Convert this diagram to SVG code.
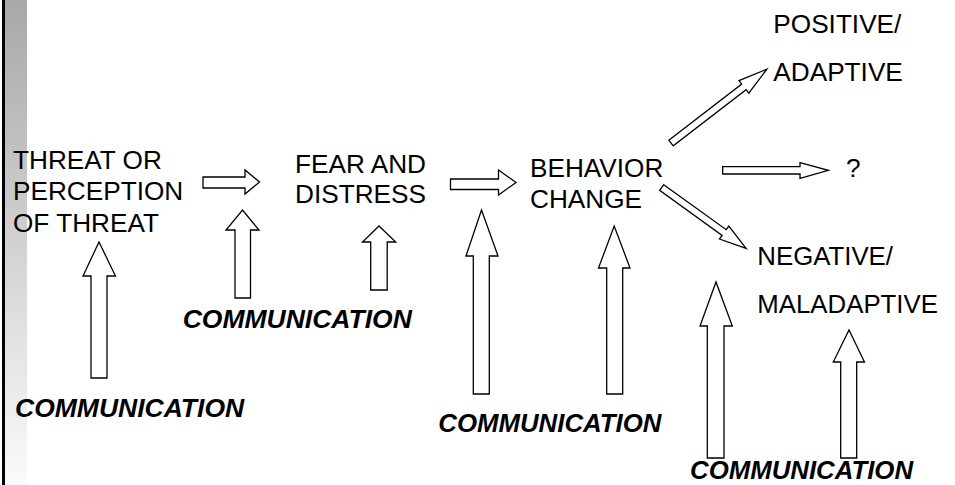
<svg xmlns="http://www.w3.org/2000/svg" width="955" height="485" viewBox="0 0 955 485">
<defs>
<linearGradient id="bar" x1="0" y1="0" x2="0" y2="1">
<stop offset="0" stop-color="#a8a8a8"/>
<stop offset="1" stop-color="#fbfbfb"/>
</linearGradient>
<style>
.lbl{font-family:"Liberation Sans",Arial,sans-serif;font-size:26.2px;fill:#000}
.com{font-family:"Liberation Sans",Arial,sans-serif;font-size:26.5px;font-weight:bold;font-style:italic;fill:#000}
.sm{font-size:25.8px}
.arr{fill:#fff;stroke:#000;stroke-width:1.3;stroke-linejoin:miter}
</style>
</defs>
<rect width="955" height="485" fill="#fff"/>
<rect x="5" y="0" width="22" height="485" fill="url(#bar)"/>
<rect x="2" y="0" width="3" height="485" fill="#000"/>

<g id="connectors">
<path class="arr" d="M203,177 H245 V170 L259.5,182 L245,194 V188 H203 Z"/>
<path class="arr" d="M235,298 V230 H226 L242.5,210 L259,230 H250.5 V298 Z"/>
<path class="arr" d="M91,378 V276 H83 L99,242 L115.5,276 H107 V378 Z"/>
<path class="arr" d="M370.7,290 V242 H362.5 L379,226 L395.7,242 H387.2 V290 Z"/>
<path class="arr" d="M450.5,179 H498.5 V170 L516,182.5 L498.5,195 V189.5 H450.5 Z"/>
<path class="arr" d="M473.3,394 V256 H466 L481.5,210 L498,256 H489.3 V394 Z"/>
<path class="arr" d="M606.7,394 V268 H598.5 L614.2,226 L630,268 H622.7 V394 Z"/>
<path class="arr" d="M707.3,458 V326 H700 L716,282 L732.3,326 H724 V458 Z"/>
<path class="arr" d="M840.7,458 V362 H833.3 L849,330 L864.5,362 H856.7 V458 Z"/>
<path class="arr" transform="translate(671,143) rotate(-37.6)" d="M0,-3.6 H92 V-8 L121,0 L92,8 V3.6 H0 Z"/>
<path class="arr" d="M722.7,166.7 H800 V162.7 L828.3,170.3 L800,178.3 V174 H722.7 Z"/>
<path class="arr" transform="translate(661.7,187.5) rotate(35.8)" d="M0,-3.5 H77 V-8 L104,0 L77,8 V3.5 H0 Z"/>
</g>

<g id="threat">
<text class="lbl" x="13" y="168.5">THREAT OR</text>
<text class="lbl" x="13" y="200">PERCEPTION</text>
<text class="lbl" x="13" y="231.7">OF THREAT</text>
</g>
<g id="fear">
<text class="lbl" x="295" y="173">FEAR AND</text>
<text class="lbl" x="295" y="203">DISTRESS</text>
</g>
<g id="behavior">
<text class="lbl" x="530" y="176.7">BEHAVIOR</text>
<text class="lbl" x="530" y="208.3">CHANGE</text>
</g>
<g id="positive">
<text class="lbl" x="773.3" y="33.3">POSITIVE/</text>
<text class="lbl" x="773.3" y="81">ADAPTIVE</text>
</g>
<g id="unknown">
<text class="lbl" x="846" y="176.7">?</text>
</g>
<g id="negative">
<text class="lbl sm" x="757.3" y="265">NEGATIVE/</text>
<text class="lbl sm" x="757.3" y="312.7">MALADAPTIVE</text>
</g>
<g id="comm1"><text class="com" x="15" y="416.7">COMMUNICATION</text></g>
<g id="comm2"><text class="com" x="182.7" y="328.3">COMMUNICATION</text></g>
<g id="comm3"><text class="com sm" x="438.3" y="432.3">COMMUNICATION</text></g>
<g id="comm4"><text class="com sm" x="690" y="479.3">COMMUNICATION</text></g>
</svg>
